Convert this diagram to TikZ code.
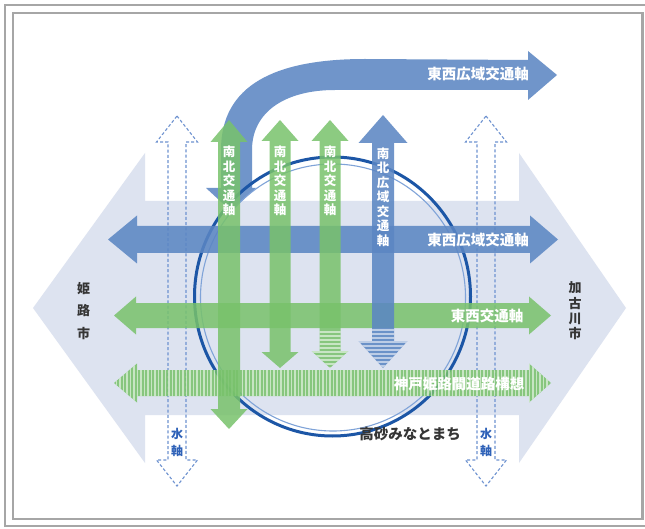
\documentclass[tikz,border=0pt]{standalone}
\usepackage{fontspec}
\newfontfamily\jp{Noto Sans CJK JP}
\definecolor{bgblue}{HTML}{DDE3F0}
\definecolor{arrblue}{HTML}{5B86C3}
\definecolor{arrgreen}{HTML}{78C26B}
\definecolor{ringdark}{HTML}{1C56A6}
\definecolor{ringlight}{HTML}{7FA3D8}
\definecolor{dashblue}{HTML}{6E92D0}
\definecolor{waterblue}{HTML}{2F62B8}
\definecolor{framegray}{HTML}{A6A6A6}
\definecolor{textgray}{HTML}{353535}
% vertical double arrow path: cx, half shaft, half head, top tip, top base, bottom base, bottom tip
\newcommand{\myvpath}[7]{(#1,#4) -- ({#1+#3},#5) -- ({#1+#2},#5) -- ({#1+#2},#6) -- ({#1+#3},#6) -- (#1,#7) -- ({#1-#3},#6) -- ({#1-#2},#6) -- ({#1-#2},#5) -- ({#1-#3},#5) -- cycle}
% horizontal double arrow path: cy, half shaft, half head, left tip, left base, right base, right tip
\newcommand{\myhpath}[7]{(#4,#1) -- (#5,{#1-#3}) -- (#5,{#1-#2}) -- (#6,{#1-#2}) -- (#6,{#1-#3}) -- (#7,#1) -- (#6,{#1+#3}) -- (#6,{#1+#2}) -- (#5,{#1+#2}) -- (#5,{#1+#3}) -- cycle}
\tikzset{
  bluearr/.style={fill=arrblue, opacity=0.87},
  greenarr/.style={fill=arrgreen, opacity=0.85},
  waterarr/.style={draw=dashblue, line width=1.1pt, dash pattern=on 3pt off 2.2pt},
  stripe/.style={white, line width=1.3pt, opacity=0.55},
  wlabel/.style={text=white, font=\jp\bfseries\fontsize{14.5}{16}\selectfont, inner sep=0pt},
  vlabel/.style={text=white, font=\jp\bfseries\fontsize{12.5}{14.5}\selectfont, align=center, inner sep=0pt},
  citylabel/.style={text=textgray, font=\jp\bfseries\fontsize{13}{#1}\selectfont, align=center, inner sep=0pt},
  waterlabel/.style={text=waterblue, font=\jp\bfseries\fontsize{12}{17}\selectfont, align=center, inner sep=0pt}
}
\begin{document}
\begin{tikzpicture}[x=1pt,y=-1pt]
\useasboundingbox (0,0) rectangle (645,529);
\fill[white] (0,0) rectangle (645,529);
% frame
\draw[framegray, line width=2.4pt] (5,5) rectangle (652,526);
\draw[framegray, line width=2.2pt] (13,13) rectangle (642.5,519);
% background big double arrow
\fill[bgblue] (33,308) -- (145,153) -- (145,201) -- (519,201) -- (519,153) -- (626,308) -- (519,463) -- (519,415) -- (145,415) -- (145,463) -- cycle;
% water axes (dashed outline arrows)
\draw[waterarr] \myvpath{177}{9}{20.5}{116}{142}{460}{486};
\draw[waterarr] \myvpath{486}{9}{20.5}{116}{142}{460}{486};
% curved wide-area axis arrow
\fill[bluearr] (231,211) -- (206,188) -- (221,188) -- (221,150) .. controls (221,85) and (275,59) .. (365,59) -- (528,60) -- (528,51) -- (557,75) -- (528,100) -- (528,90) -- (335,90) .. controls (285,90) and (252,112) .. (252,150) -- (252,188) -- (256,188) -- cycle;
% ring
\draw[ringdark, line width=3pt] (332.5,296.5) ellipse [x radius=138pt, y radius=139.5pt];
\draw[ringlight, line width=1.1pt] (333,297.5) ellipse [x radius=132.5pt, y radius=133.5pt];
% horizontal arrows
\fill[bluearr] \myhpath{239.5}{13.5}{24}{108}{137}{530}{558};
\fill[greenarr] \myhpath{315.5}{12.5}{19}{114}{136}{529}{551};
\fill[greenarr] \myhpath{383}{13}{19.5}{114}{137}{529}{551};
\begin{scope}
  \clip \myhpath{383}{13}{19.5}{114}{137}{529}{551};
  \foreach \x in {113,116.5,...,553} \draw[stripe] (\x,360) -- (\x,406);
\end{scope}
% vertical arrows
\fill[greenarr] \myvpath{229}{11}{18.5}{120}{142}{409}{429};
\fill[greenarr] \myvpath{280}{10.5}{18.5}{120}{141}{352}{368};
\fill[greenarr] \myvpath{330}{10.5}{18.5}{120}{141}{351}{368};
\begin{scope}
  \clip \myvpath{330}{10.5}{18.5}{120}{141}{351}{368};
  \foreach \y in {332,336,...,370} \draw[stripe] (308,\y) -- (352,\y);
\end{scope}
\fill[bluearr] \myvpath{383}{11}{24.5}{115}{143}{341}{368};
\begin{scope}
  \clip \myvpath{383}{11}{24.5}{115}{143}{341}{368};
  \foreach \y in {330,334,...,370} \draw[stripe] (356,\y) -- (410,\y);
\end{scope}
% labels
\node[wlabel] (ewtop) at (478,74) {東西広域交通軸};
\node[wlabel] (ewmid) at (478,240) {東西広域交通軸};
\node[wlabel] (ewgreen) at (487,316) {東西交通軸};
\node[wlabel] (kobe) at (459,384) {神戸姫路間道路構想};
\node[vlabel] (ns1) at (229,181) {南\\北\\交\\通\\軸};
\node[vlabel] (ns2) at (280,181) {南\\北\\交\\通\\軸};
\node[vlabel] (ns3) at (330,181) {南\\北\\交\\通\\軸};
\node[vlabel] (nswide) at (383,197) {南\\北\\広\\域\\交\\通\\軸};
\node[citylabel=22.75] (himeji) at (83.5,311) {姫\\路\\市};
\node[citylabel=15.4] (kakogawa) at (575,311) {加\\古\\川\\市};
\node[text=textgray, font=\jp\bfseries\fontsize{14.5}{16}\selectfont, inner sep=0pt] (town) at (410,434) {高砂みなとまち};
\node[waterlabel] (water1) at (177,442) {水\\軸};
\node[waterlabel] (water2) at (486,442) {水\\軸};
\end{tikzpicture}
\end{document}
